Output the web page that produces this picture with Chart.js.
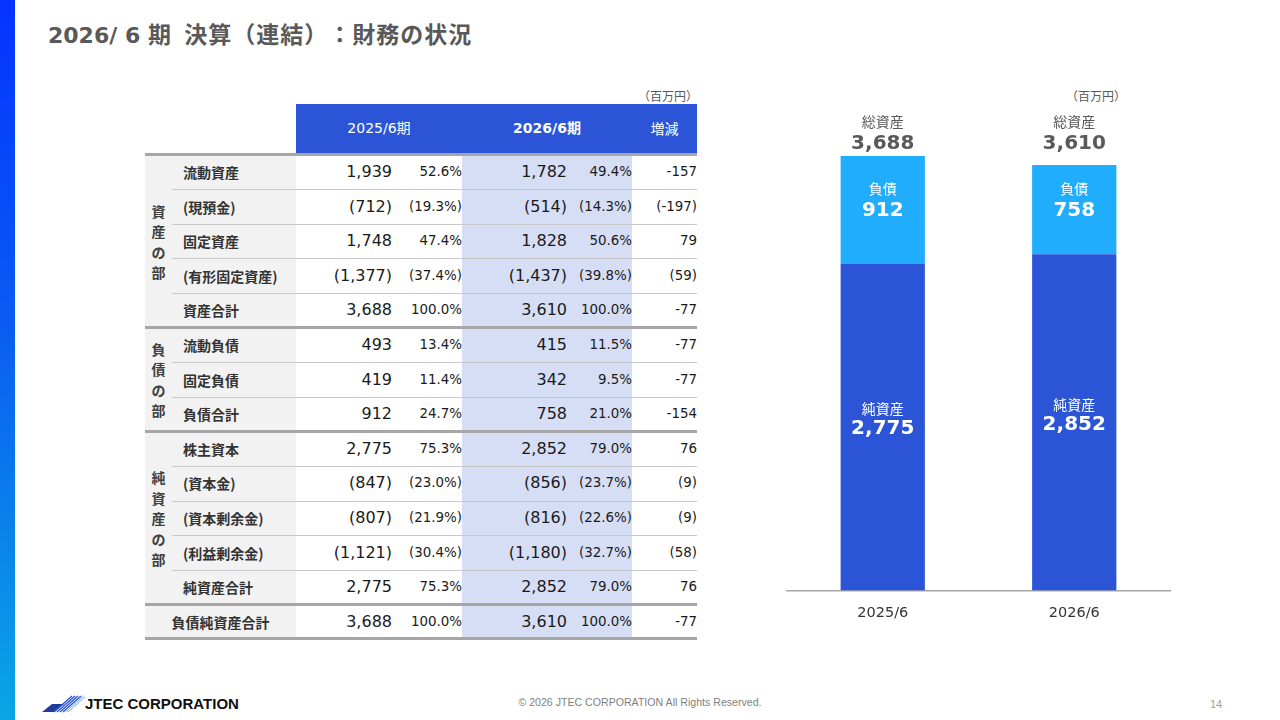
<!DOCTYPE html>
<html lang="ja">
<head>
<meta charset="utf-8">
<script src="https://cdn.jsdelivr.net/npm/chart.js@4.4.1/dist/chart.umd.min.js"></script>
<style>
  html,body{margin:0;padding:0;}
  body{width:1280px;height:720px;position:relative;overflow:hidden;background:#fff;font-family:"DejaVu Sans","Noto Sans CJK JP",sans-serif;text-spacing-trim:space-all;}
  .abs{position:absolute;}
  #sidebar{left:0;top:0;width:15px;height:720px;background:linear-gradient(to bottom,#0433ff 0%,#0a5cf2 45%,#0aa6e6 100%);}
  #title{left:48px;top:16px;font-size:22px;font-weight:bold;color:#595959;white-space:nowrap;font-family:"DejaVu Sans","Noto Sans CJK JP",sans-serif;}
  #title .j{font-family:"Noto Sans CJK JP",sans-serif;font-size:23px;letter-spacing:1px;text-spacing-trim:space-all;}
  .unit{font-size:12px;color:#595959;white-space:nowrap;font-family:"Noto Sans CJK JP",sans-serif;}
  .hdr{top:104px;height:49px;line-height:49px;background:#2b55d6;color:#fff;font-size:14px;text-align:center;}
  .cell{white-space:nowrap;color:#1a1a1a;}
  .lbl{font-size:14px;font-weight:bold;color:#333;font-family:"Noto Sans CJK JP",sans-serif;}
  .val{font-size:16px;text-align:right;}
  .pct{font-size:13.4px;text-align:right;}
  .grp{font-size:14px;font-weight:bold;color:#404040;text-align:center;line-height:20.5px;width:27px;font-family:"Noto Sans CJK JP",sans-serif;}
  #chartBox{left:770px;top:60px;width:417px;height:580px;}
  #copy{left:0;width:1280px;top:696px;text-align:center;font-family:"Liberation Sans",Arial,sans-serif;font-size:10.6px;color:#7f7f7f;}
  #page{left:1204px;top:698px;width:24px;text-align:center;font-family:"Liberation Sans",Arial,sans-serif;font-size:11px;color:#a0a0a0;}
  #logoText{left:85px;top:695px;font-family:"Liberation Sans",Arial,sans-serif;font-weight:bold;font-size:15px;color:#111;}
</style>
</head>
<body>
<div id="sidebar" class="abs"></div>
<div id="title" class="abs">2026/ 6 <span class="j">期&nbsp; 決算（連結）：財務の状況</span></div>
<div class="abs unit" style="left:638px;top:87px;">（百万円）</div>
<div class="abs unit" style="left:1066px;top:87px;">（百万円）</div>
<div id="table"></div>
<div id="chartBox" class="abs"><canvas id="c"></canvas></div>

<svg class="abs" style="left:40px;top:694px;" width="46" height="20" viewBox="0 0 46 20">
  <polygon points="2,18 12,10 24,10 14,18" fill="#1f3c9c"/>
  <g stroke="#2b55d6" stroke-width="1.3">
    <line x1="14" y1="18" x2="32" y2="2"/>
    <line x1="17" y1="18" x2="35" y2="2"/>
    <line x1="20" y1="18" x2="38" y2="2"/>
    <line x1="23" y1="18" x2="41" y2="2"/>
  </g>
  <g stroke="#7fa0ea" stroke-width="1">
    <line x1="25.5" y1="18" x2="43.5" y2="2"/>
    <line x1="28" y1="18" x2="45" y2="3"/>
  </g>
</svg>
<div id="logoText" class="abs">JTEC CORPORATION</div>
<div id="copy" class="abs">© 2026 JTEC CORPORATION All Rights Reserved.</div>
<div id="page" class="abs">14</div>

<script>
// ---------- Data ----------
const categories = ['2025/6', '2026/6'];
const netAssets = [2775, 2852];
const liabilities = [912, 758];
const totalAssets = [3688, 3610];
const seriesNames = ['純資産', '負債'];
const totalName = '総資産';

const headerLabels = ['2025/6期', '2026/6期', '増減'];
const groupLabels = ['資産の部', '負債の部', '純資産の部'];
const groupRows = [[0, 4], [5, 7], [8, 12]];
const rowLabels = ['流動資産','(現預金)','固定資産','(有形固定資産)','資産合計','流動負債','固定負債','負債合計','株主資本','(資本金)','(資本剰余金)','(利益剰余金)','純資産合計','負債純資産合計'];
const val2025 = ['1,939','(712)','1,748','(1,377)','3,688','493','419','912','2,775','(847)','(807)','(1,121)','2,775','3,688'];
const pct2025 = ['52.6%','(19.3%)','47.4%','(37.4%)','100.0%','13.4%','11.4%','24.7%','75.3%','(23.0%)','(21.9%)','(30.4%)','75.3%','100.0%'];
const val2026 = ['1,782','(514)','1,828','(1,437)','3,610','415','342','758','2,852','(856)','(816)','(1,180)','2,852','3,610'];
const pct2026 = ['49.4%','(14.3%)','50.6%','(39.8%)','100.0%','11.5%','9.5%','21.0%','79.0%','(23.7%)','(22.6%)','(32.7%)','79.0%','100.0%'];
const diffVals = ['-157','(-197)','79','(59)','-77','-77','-77','-154','76','(9)','(9)','(58)','76','-77'];

// ---------- Table ----------
(function buildTable(){
  const t = document.getElementById('table');
  const top0 = 155, pitch = 34.6, n = rowLabels.length;
  const add = (html) => t.insertAdjacentHTML('beforeend', html);
  add(`<div class="abs" style="left:145px;top:${top0}px;width:151px;height:${n*pitch}px;background:#f2f2f2"></div>`);
  add(`<div class="abs" style="left:462px;top:${top0}px;width:170px;height:${n*pitch}px;background:#d6def6"></div>`);
  add(`<div class="abs hdr" style="left:296px;width:166px;">${headerLabels[0]}</div>`);
  add(`<div class="abs hdr" style="left:462px;width:170px;font-weight:bold;">${headerLabels[1]}</div>`);
  add(`<div class="abs hdr" style="left:632px;width:65px;font-family:'Noto Sans CJK JP',sans-serif;">${headerLabels[2]}</div>`);
  const thick = [0, 5, 8, 13, 14];
  for (let i = 0; i <= n; i++) {
    const y = top0 + i*pitch;
    if (thick.includes(i)) {
      add(`<div class="abs" style="left:145px;top:${y-2}px;width:552px;height:3px;background:#a6a6a6"></div>`);
    } else {
      add(`<div class="abs" style="left:172px;top:${y-0.5}px;width:525px;height:1px;background:#c9c9c9"></div>`);
    }
  }
  for (let i = 0; i < n; i++) {
    const y = top0 + i*pitch;
    const st = `top:${y}px;height:${pitch}px;line-height:${pitch}px;`;
    if (i === n-1) {
      add(`<div class="abs cell lbl" style="${st}left:145px;width:151px;text-align:center;">${rowLabels[i]}</div>`);
    } else {
      add(`<div class="abs cell lbl" style="${st}left:183px;">${rowLabels[i]}</div>`);
    }
    add(`<div class="abs cell val" style="${st}left:296px;width:96px;">${val2025[i]}</div>`);
    add(`<div class="abs cell pct" style="${st}left:392px;width:70px;">${pct2025[i]}</div>`);
    add(`<div class="abs cell val" style="${st}left:462px;width:105px;">${val2026[i]}</div>`);
    add(`<div class="abs cell pct" style="${st}left:567px;width:65px;">${pct2026[i]}</div>`);
    add(`<div class="abs cell pct" style="${st}left:632px;width:65px;">${diffVals[i]}</div>`);
  }
  groupLabels.forEach((g, k) => {
    const [a, b] = groupRows[k];
    const center = top0 + (a + b + 1) / 2 * pitch;
    const h = g.length * 20.5;
    add(`<div class="abs grp" style="left:145px;top:${center - h/2}px;">${g.split('').join('<br>')}</div>`);
  });
})();

// ---------- Chart ----------
const DARK = '#2b55d6', LIGHT = '#21adfd';
const NUMFONT = '"DejaVu Sans", "Noto Sans CJK JP", sans-serif';
const JPFONT = '"Noto Sans CJK JP", sans-serif';
const labelPlugin = {
  id: 'barLabels',
  afterDatasetsDraw(chart) {
    const ctx = chart.ctx;
    const m0 = chart.getDatasetMeta(0), m1 = chart.getDatasetMeta(1);
    const fmt = v => v.toLocaleString('en-US');
    const yTop = Math.min(...totalAssets.map(v => chart.scales.y.getPixelForValue(v)));
    ctx.save();
    ctx.textAlign = 'center';
    ctx.textBaseline = 'middle';
    categories.forEach((c, i) => {
      const b0 = m0.data[i], b1 = m1.data[i];
      const x = b0.x;
      const mid0 = (b0.y + b0.base) / 2;
      ctx.fillStyle = '#fff';
      ctx.font = '14px ' + JPFONT;
      ctx.fillText(seriesNames[0], x, mid0 - 18);
      ctx.font = 'bold 20px ' + NUMFONT;
      ctx.fillText(fmt(netAssets[i]), x, mid0 + 2);
      const mid1 = (b1.y + b1.base) / 2;
      ctx.font = '14px ' + JPFONT;
      ctx.fillText(seriesNames[1], x, mid1 - 21);
      ctx.font = 'bold 20px ' + NUMFONT;
      ctx.fillText(fmt(liabilities[i]), x, mid1 + 1);
      ctx.fillStyle = '#595959';
      ctx.font = '14px ' + JPFONT;
      ctx.fillText(totalName, x, yTop - 34);
      ctx.font = 'bold 20px ' + NUMFONT;
      ctx.fillText(fmt(totalAssets[i]), x, yTop - 12);
    });
    ctx.restore();
  }
};

new Chart(document.getElementById('c'), {
  type: 'bar',
  data: {
    labels: categories,
    datasets: [
      { label: seriesNames[0], data: netAssets, backgroundColor: DARK, borderWidth: 0 },
      { label: seriesNames[1], data: liabilities, backgroundColor: LIGHT, borderWidth: 0 }
    ]
  },
  options: {
    responsive: true,
    maintainAspectRatio: false,
    animation: false,
    layout: { padding: { left: 17, right: 17, top: 59, bottom: 4 } },
    plugins: { legend: { display: false }, tooltip: { enabled: false } },
    datasets: { bar: { categoryPercentage: 0.5, barPercentage: 0.88 } },
    scales: {
      x: {
        stacked: true,
        grid: { display: false, drawTicks: false },
        border: { display: true, color: '#a6a6a6', width: 1.5 },
        ticks: { color: '#333', font: { size: 14.5, family: NUMFONT }, padding: 14 }
      },
      y: { stacked: true, display: false, min: 0, max: 4000 }
    }
  },
  plugins: [labelPlugin]
});
</script>
</body>
</html>
